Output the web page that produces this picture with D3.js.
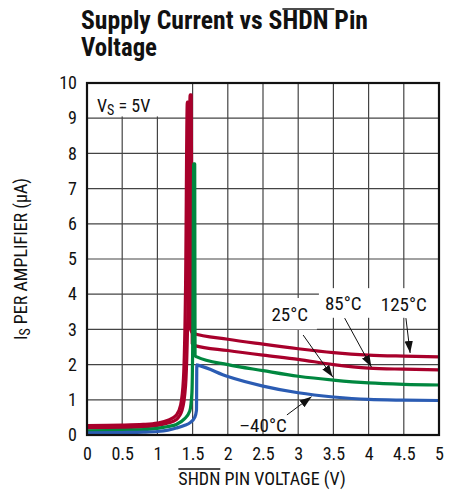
<!DOCTYPE html>
<html>
<head>
<meta charset="utf-8">
<script src="https://cdn.jsdelivr.net/npm/d3@7"></script>
<style>
  body { margin: 0; background: #fff; }
  text { font-family: "Liberation Sans Narrow", "Arial Narrow", "Roboto Condensed", "Liberation Sans", sans-serif; }
</style>
</head>
<body>
<script>
// ticks
var xTicks = [0, 0.5, 1, 1.5, 2, 2.5, 3, 3.5, 4, 4.5, 5];
var xTickLabels = ["0", "0.5", "1", "1.5", "2", "2.5", "3", "3.5", "4", "4.5", "5"];
var yTicks = [0, 1, 2, 3, 4, 5, 6, 7, 8, 9, 10];

// curves: [SHDN volts, uA]
var temp125 = [[0,0.27],[0.5,0.28],[0.8,0.3],[1.0,0.34],[1.15,0.42],[1.27,0.57],[1.33,0.85],[1.37,1.6],[1.40,4.2],[1.425,9.46],[1.44,9.46],[1.46,3.1],[1.5,2.9],[2,2.72],[2.5,2.58],[3,2.45],[3.5,2.34],[4,2.27],[4.5,2.24],[5,2.22]];
var temp85 = [[0,0.2],[0.5,0.21],[0.8,0.23],[1.0,0.27],[1.15,0.34],[1.27,0.44],[1.35,0.7],[1.40,1.4],[1.44,4.5],[1.465,9.66],[1.48,9.66],[1.495,2.6],[1.53,2.54],[2,2.4],[2.5,2.27],[3,2.15],[3.5,2.0],[4,1.9],[4.5,1.87],[5,1.85]];
var temp25 = [[0,0.12],[0.5,0.13],[0.8,0.15],[1.0,0.19],[1.15,0.24],[1.27,0.3],[1.38,0.45],[1.46,0.68],[1.49,1.2],[1.505,3.5],[1.515,7.7],[1.53,7.7],[1.535,2.25],[1.56,2.22],[2,2.0],[2.5,1.83],[3,1.67],[3.5,1.56],[4,1.48],[4.5,1.44],[5,1.42]];
var tempM40 = [[0,0.06],[0.5,0.07],[0.8,0.08],[1.0,0.1],[1.15,0.14],[1.27,0.2],[1.38,0.27],[1.47,0.36],[1.53,0.5],[1.555,0.7],[1.56,1.99],[1.6,1.97],[2,1.66],[2.5,1.39],[3,1.2],[3.5,1.08],[4,1.01],[4.5,0.99],[5,0.98]];

var seriesList = [
  {name: "125°C", color: "#a8002b", values: temp125},
  {name: "85°C", color: "#a8002b", values: temp85},
  {name: "25°C", color: "#00873f", values: temp25},
  {name: "–40°C", color: "#2b5cb3", values: tempM40}
];

// label centers and arrows (data units)
var labels = [
  {text: "25°C", x: 2.88, y: 3.42, from: [3.07, 2.84], to: [3.49, 1.65]},
  {text: "85°C", x: 3.64, y: 3.74, from: [3.66, 3.32], to: [4.04, 1.93]},
  {text: "125°C", x: 4.5, y: 3.71, from: [4.53, 3.32], to: [4.59, 2.33]},
  {text: "–40°C", x: 2.5, y: 0.28, from: [2.84, 0.57], to: [3.19, 1.09]}
];

var width = 456, height = 494;
var svg = d3.select("body").append("svg")
    .attr("width", width)
    .attr("height", height);

var x = d3.scaleLinear().domain([0, 5]).range([87, 439]);
var y = d3.scaleLinear().domain([0, 10]).range([435, 83]);

// grid
svg.append("g").selectAll("line")
    .data(xTicks.slice(1, -1))
    .enter().append("line")
    .attr("x1", function(d) { return x(d); })
    .attr("x2", function(d) { return x(d); })
    .attr("y1", y(0)).attr("y2", y(10))
    .attr("stroke", "#444").attr("stroke-width", 1.2);
svg.append("g").selectAll("line")
    .data(yTicks.slice(1, -1))
    .enter().append("line")
    .attr("x1", x(0)).attr("x2", x(5))
    .attr("y1", function(d) { return y(d); })
    .attr("y2", function(d) { return y(d); })
    .attr("stroke", "#444").attr("stroke-width", 1.2);

// white boxes behind the labels
var boxes = [[0, 9.05, 1.13, 10], [2.5, 3.0, 3.28, 3.92], [3.28, 3.33, 5, 4.2]];
svg.append("g").selectAll("rect")
    .data(boxes)
    .enter().append("rect")
    .attr("x", function(d) { return x(d[0]) + 1; })
    .attr("y", function(d) { return y(d[3]) + 1; })
    .attr("width", function(d) { return x(d[2]) - x(d[0]) - 2; })
    .attr("height", function(d) { return y(d[1]) - y(d[3]) - 1; })
    .attr("fill", "#fff");

// curves
var line = d3.line()
    .x(function(d) { return x(d[0]); })
    .y(function(d) { return y(d[1]); })
    .curve(d3.curveMonotoneX);

svg.append("g").selectAll("path")
    .data(seriesList)
    .enter().append("path")
    .attr("d", function(d) { return line(d.values); })
    .attr("fill", "none")
    .attr("stroke", function(d) { return d.color; })
    .attr("stroke-width", 3.2)
    .attr("stroke-linejoin", "round");

// frame
svg.append("rect")
    .attr("x", x(0)).attr("y", y(10))
    .attr("width", x(5) - x(0)).attr("height", y(0) - y(10))
    .attr("fill", "none").attr("stroke", "#111").attr("stroke-width", 2.2);

// axes labels
var xAxis = d3.axisBottom(x).tickValues(xTicks).tickSize(0).tickPadding(12)
    .tickFormat(function(d, i) { return xTickLabels[i]; });
var gx = svg.append("g").attr("transform", "translate(0," + y(0) + ")").call(xAxis);
gx.select(".domain").remove();
gx.selectAll("text").attr("font-size", 18).attr("fill", "#111")
    .style("font-family", null);

var yAxis = d3.axisLeft(y).tickValues(yTicks).tickSize(0).tickPadding(10);
var gy = svg.append("g").attr("transform", "translate(" + x(0) + ",0)").call(yAxis);
gy.select(".domain").remove();
gy.selectAll("text").attr("font-size", 18).attr("fill", "#111")
    .style("font-family", null);

// arrows
svg.append("defs").append("marker")
    .attr("id", "arr")
    .attr("viewBox", "0 0 10 10")
    .attr("refX", 10).attr("refY", 5)
    .attr("markerWidth", 12).attr("markerHeight", 12)
    .attr("markerUnits", "userSpaceOnUse")
    .attr("orient", "auto")
    .append("path").attr("d", "M0,1.5L10,5L0,8.5Z").attr("fill", "#111");

svg.append("g").selectAll("line")
    .data(labels)
    .enter().append("line")
    .attr("x1", function(d) { return x(d.from[0]); })
    .attr("y1", function(d) { return y(d.from[1]); })
    .attr("x2", function(d) { return x(d.to[0]); })
    .attr("y2", function(d) { return y(d.to[1]); })
    .attr("stroke", "#111").attr("stroke-width", 1)
    .attr("marker-end", "url(#arr)");

svg.append("g").selectAll("text")
    .data(labels)
    .enter().append("text")
    .attr("x", function(d) { return x(d.x); })
    .attr("y", function(d) { return y(d.y); })
    .attr("text-anchor", "middle")
    .attr("dominant-baseline", "central")
    .attr("font-size", 19)
    .attr("fill", "#111")
    .text(function(d) { return d.text; });

// Vs = 5V
var vs = svg.append("text").attr("x", 97).attr("y", 112).attr("font-size", 18).attr("fill", "#111");
vs.append("tspan").text("V");
vs.append("tspan").attr("font-size", 14).attr("dy", 3).text("S");
vs.append("tspan").attr("dy", -3).text(" = 5V");

// overline helper
function overline(textSel, from, to, dy) {
  var node = textSel.node();
  var a = node.getExtentOfChar(from), b = node.getExtentOfChar(to);
  svg.append("line")
      .attr("x1", a.x).attr("x2", b.x + b.width)
      .attr("y1", a.y + dy).attr("y2", a.y + dy)
      .attr("stroke", "#111").attr("stroke-width", 1.5);
}

// y title
var yt = svg.append("text")
    .attr("transform", "translate(27,259) rotate(-90)")
    .attr("text-anchor", "middle")
    .attr("font-size", 18).attr("fill", "#111");
yt.append("tspan").text("I");
yt.append("tspan").attr("font-size", 14).attr("dy", 3).text("S");
yt.append("tspan").attr("dy", -3).text(" PER AMPLIFIER (μA)");

// x title
var xt = svg.append("text")
    .attr("x", 262).attr("y", 485)
    .attr("text-anchor", "middle")
    .attr("font-size", 18).attr("fill", "#111")
    .text("SHDN PIN VOLTAGE (V)");
overline(xt, 0, 3, 1);

// chart title
var t1 = svg.append("text").attr("x", 81).attr("y", 29)
    .attr("font-size", 25).attr("font-weight", "bold").attr("fill", "#111")
    .attr("textLength", 287).attr("lengthAdjust", "spacingAndGlyphs")
    .text("Supply Current vs SHDN Pin");
overline(t1, 19, 22, 3);
svg.append("text").attr("x", 81).attr("y", 56)
    .attr("font-size", 25).attr("font-weight", "bold").attr("fill", "#111")
    .attr("textLength", 76).attr("lengthAdjust", "spacingAndGlyphs")
    .text("Voltage");
</script>
</body>
</html>
